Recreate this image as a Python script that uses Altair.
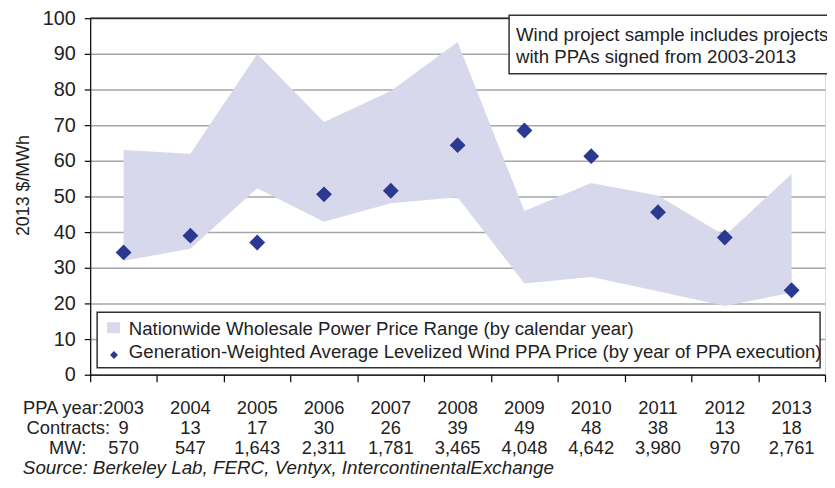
import altair as alt
import pandas as pd

years = [2003, 2004, 2005, 2006, 2007, 2008, 2009, 2010, 2011, 2012, 2013]
range_high = [63, 62, 90, 70.9, 79.6, 93.3, 45.9, 53.8, 50.3, 39.0, 56.3]
range_low = [32, 35.3, 52.3, 42.9, 48.1, 49.8, 25.6, 27.4, 23.4, 19.3, 23.0]
ppa_price = [34.3, 39.0, 37.1, 50.6, 51.6, 64.4, 68.5, 61.3, 45.6, 38.5, 23.7]
contracts = ["9", "13", "17", "30", "26", "39", "49", "48", "38", "13", "18"]
mw = ["570", "547", "1,643", "2,311", "1,781", "3,465", "4,048", "4,642", "3,980", "970", "2,761"]
year_labels = [str(y) for y in years]
y_ticks = list(range(0, 101, 10))
band_edges = [2002.5 + i for i in range(12)]

FONT = "Liberation Sans"
AREA_COL = "#d8d8ec"
DIAMOND_COL = "#2b3990"
TEXT_COL = "#222222"

df = pd.DataFrame({
    "year": years, "high": range_high, "low": range_low, "price": ppa_price,
    "contracts": contracts, "mw": mw, "ylab": year_labels,
})
one = pd.DataFrame({"k": [0]})

xscale = alt.Scale(domain=[2002.5, 2013.5], nice=False, zero=False)
yscale = alt.Scale(domain=[0, 100], nice=False)

xaxis = alt.Axis(values=band_edges, labels=False, title=None, grid=False,
                 tickSize=7, tickColor="#000", domainColor="#000", domainWidth=1.2,
                 tickWidth=1.2)
yaxis = alt.Axis(values=y_ticks, title=None, tickSize=6, labelPadding=9,
                 labelFontSize=20, labelFont=FONT, labelColor=TEXT_COL,
                 labelOverlap=False, labelFlush=False,
                 gridColor="#a6a6a6", gridWidth=1.5, tickColor="#000", tickWidth=1.2,
                 domainColor="#000", domainWidth=1.2)

area = alt.Chart(df).mark_area(color=AREA_COL, opacity=1).encode(
    x=alt.X("year:Q", scale=xscale, axis=xaxis),
    y=alt.Y("low:Q", scale=yscale, axis=yaxis),
    y2="high:Q",
)

points = alt.Chart(df).mark_point(shape="diamond", filled=True, size=256,
                                   color=DIAMOND_COL, opacity=1).encode(
    x=alt.X("year:Q", scale=xscale, axis=xaxis),
    y=alt.Y("price:Q", scale=yscale, axis=yaxis))

top_rule = alt.Chart(one).mark_rule(color="#000", strokeWidth=1.2).encode(
    x=alt.value(0), x2=alt.value(742), y=alt.value(0))

# Legend
leg_box = alt.Chart(one).mark_rect(fill="white", stroke="#333", strokeWidth=1.5).encode(
    x=alt.value(7), x2=alt.value(737), y=alt.value(297), y2=alt.value(353))
leg_sq = alt.Chart(one).mark_rect(fill=AREA_COL).encode(
    x=alt.value(17), x2=alt.value(30), y=alt.value(307), y2=alt.value(318))
leg_dia = alt.Chart(one).mark_point(shape="diamond", filled=True, size=64,
                                    color=DIAMOND_COL, opacity=1).encode(
    x=alt.value(24), y=alt.value(340))
leg_t1 = alt.Chart(one).mark_text(align="left", baseline="middle", font=FONT, fontSize=18.8,
                                  color=TEXT_COL).encode(
    x=alt.value(39), y=alt.value(314), text=alt.value("Nationwide Wholesale Power Price Range (by calendar year)"))
leg_t2 = alt.Chart(one).mark_text(align="left", baseline="middle", font=FONT, fontSize=18.8,
                                  color=TEXT_COL).encode(
    x=alt.value(39), y=alt.value(337),
    text=alt.value("Generation-Weighted Average Levelized Wind PPA Price (by year of PPA execution)"))

# Annotation box
ann_box = alt.Chart(one).mark_rect(fill="white", stroke="#333", strokeWidth=1.5).encode(
    x=alt.value(423), x2=alt.value(746), y=alt.value(-3), y2=alt.value(56))
ann_t1 = alt.Chart(one).mark_text(align="left", baseline="middle", font=FONT, fontSize=18.8,
                                  color=TEXT_COL).encode(
    x=alt.value(430), y=alt.value(17), text=alt.value("Wind project sample includes projects"))
ann_t2 = alt.Chart(one).mark_text(align="left", baseline="middle", font=FONT, fontSize=18.8,
                                  color=TEXT_COL).encode(
    x=alt.value(430), y=alt.value(39), text=alt.value("with PPAs signed from 2003-2013"))

# Bottom table
def row(field, ypos):
    return alt.Chart(df).mark_text(align="center", baseline="middle", font=FONT,
                                   fontSize=18.5, color=TEXT_COL).encode(
        x=alt.X("year:Q", scale=xscale, axis=xaxis), y=alt.value(ypos), text=f"{field}:N")

row1 = row("ylab", 394)
row2 = row("contracts", 414)
row3 = row("mw", 434)

def label(txt, xpos, ypos, align, italic=False, size=18.5):
    return alt.Chart(one).mark_text(align=align, baseline="middle", font=FONT, fontSize=size,
                                    fontStyle="italic" if italic else "normal",
                                    color=TEXT_COL).encode(
        x=alt.value(xpos), y=alt.value(ypos), text=alt.value(txt))

lab1 = label("PPA year:", 13, 394, "right")
lab2 = label("Contracts:", 20, 414, "right")
lab3 = label("MW:", -4, 434, "right")
src = label("Source: Berkeley Lab, FERC, Ventyx, IntercontinentalExchange", -68, 454, "left",
            italic=True, size=19)

ytitle = alt.Chart(one).mark_text(angle=270, align="center", baseline="middle", font=FONT,
                                  fontSize=18, color=TEXT_COL).encode(
    x=alt.value(-67), y=alt.value(169), text=alt.value("2013 $/MWh"))

chart = alt.layer(
    area, points, top_rule, leg_box, leg_sq, leg_dia, leg_t1, leg_t2,
    ann_box, ann_t1, ann_t2, row1, row2, row3, lab1, lab2, lab3, src, ytitle
).properties(
    width=742, height=360,
    autosize=alt.AutoSizeParams(type="none"),
    padding={"left": 83, "top": 8, "right": 2, "bottom": 104},
).configure_view(stroke=None).configure(background="white")

chart.save("out.html", embed_options={"renderer": "svg", "actions": False})
